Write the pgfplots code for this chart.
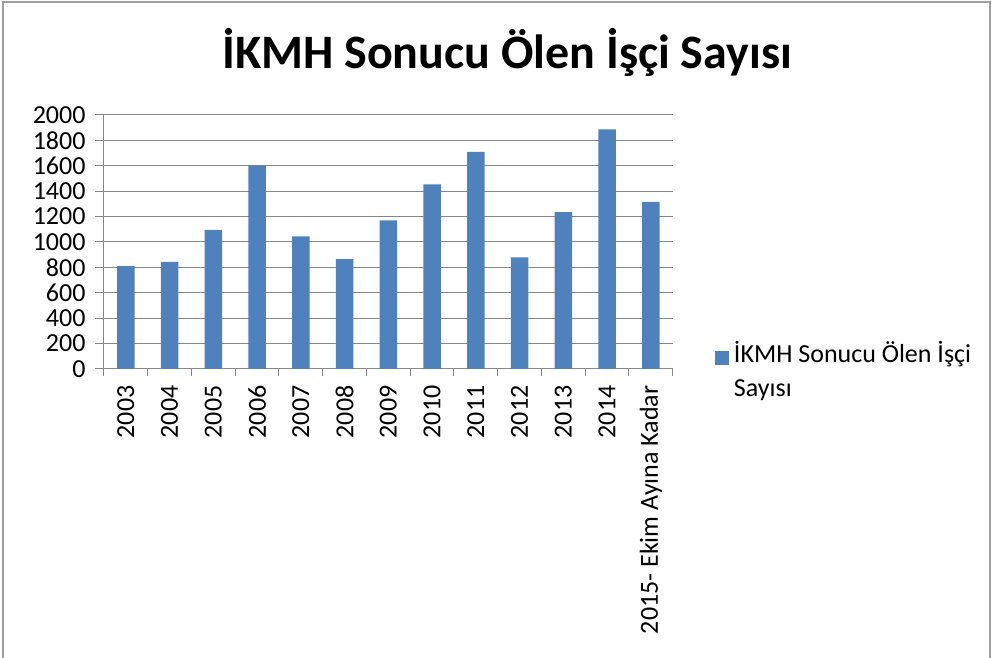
\documentclass[border=0pt]{standalone}
\usepackage{fontspec}
\setmainfont{Carlito}[Numbers={Monospaced,Lining}]
\usepackage{pgfplots}
\pgfplotsset{compat=1.18}
\definecolor{barblue}{HTML}{4F81BD}
\definecolor{gridgray}{HTML}{878787}
\begin{document}
\begin{tikzpicture}[x=1pt,y=1pt]
\useasboundingbox (0,0) rectangle (993,658);
\draw[gridgray!80, line width=1.2pt] (3,-5) -- (3,656) -- (990,656) -- (990,-5);
\node[font=\fontsize{48}{54}\selectfont\bfseries, anchor=base, inner sep=0pt] at (507,589) {İKMH Sonucu Ölen İşçi Sayısı};
\begin{axis}[
  at={(104pt,289pt)}, anchor=south west, scale only axis,
  width=568.7pt, height=254pt,
  ybar, bar width=17.5pt, bar shift=0pt,
  xmin=-0.5, xmax=12.5, ymin=0, ymax=2000,
  ytick={0,200,...,2000},
  xtick={0,...,12},
  xticklabels={2003,2004,2005,2006,2007,2008,2009,2010,2011,2012,2013,2014,2015- Ekim Ayına Kadar},
  minor xtick={-0.5,0.5,...,12.5},
  axis x line*=bottom, axis y line*=left,
  axis line style={-, gridgray, line width=1pt},
  tick align=outside, major tick length=9pt, minor tick length=7pt,
  major x tick style={draw=none},
  minor x tick style={gridgray, line width=1pt},
  major y tick style={gridgray, line width=1pt},
  ymajorgrids, grid style={gridgray, line width=1pt},
  /pgf/number format/assume math mode=true,
  /pgf/number format/1000 sep={},
  tick label style={font=\fontsize{26}{30}\selectfont, text=black},
  yticklabel style={xshift=-6pt},
  xticklabel style={rotate=90, anchor=east, xshift=-4pt},
  legend style={at={(rel axis cs:1.074,0.118)}, anchor=north west, draw=none, fill=none,
    font=\fontsize{26}{34}\selectfont, cells={anchor=west, align=left},
    inner sep=0pt, column sep=3pt},
  legend image code/.code={\fill[barblue] (0pt,5pt) rectangle (14pt,19pt);},
]
\addplot[fill=barblue, draw=none] coordinates {
  (0,811) (1,843) (2,1096) (3,1601) (4,1044) (5,866) (6,1171)
  (7,1454) (8,1710) (9,878) (10,1235) (11,1886) (12,1316)};
\addlegendentry{İKMH Sonucu Ölen İşçi\\Sayısı}
\end{axis}
\end{tikzpicture}
\end{document}
